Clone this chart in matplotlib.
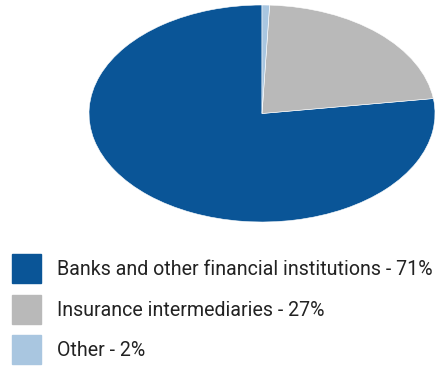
import matplotlib.pyplot as plt
from matplotlib.patches import Rectangle

# slice sizes as drawn in the picture, label text as printed
labels = ["Banks and other financial institutions - 71%",
          "Insurance intermediaries - 27%",
          "Other - 2%"]
shares = [77.2, 22.1, 0.7]
colors = ["#0a5597", "#b9b9b9", "#a9c6e0"]

W, H = 443, 367
fig = plt.figure(figsize=(W / 100, H / 100), dpi=100)

# pie is squashed into an ellipse
ax = fig.add_axes([89 / W, (H - 222) / H, 346 / W, 217 / H])
ax.pie(shares, colors=colors, startangle=90, counterclock=True,
       wedgeprops=dict(linewidth=0.4, edgecolor="white"))
ax.set_aspect("auto")
ax.set_xlim(-1, 1)
ax.set_ylim(-1, 1)
ax.axis("off")

# legend
for i, (lab, c) in enumerate(zip(labels, colors)):
    top = 254 + i * 40.5
    fig.patches.append(Rectangle((12 / W, (H - top - 29) / H), 29 / W, 29 / H,
                                 transform=fig.transFigure, color=c))
    fig.text(57 / W, (H - top - 15.5) / H, lab, fontsize=14.1, family="Roboto",
             color="#222222", va="center", ha="left")

fig.savefig("out.png", dpi=100)
